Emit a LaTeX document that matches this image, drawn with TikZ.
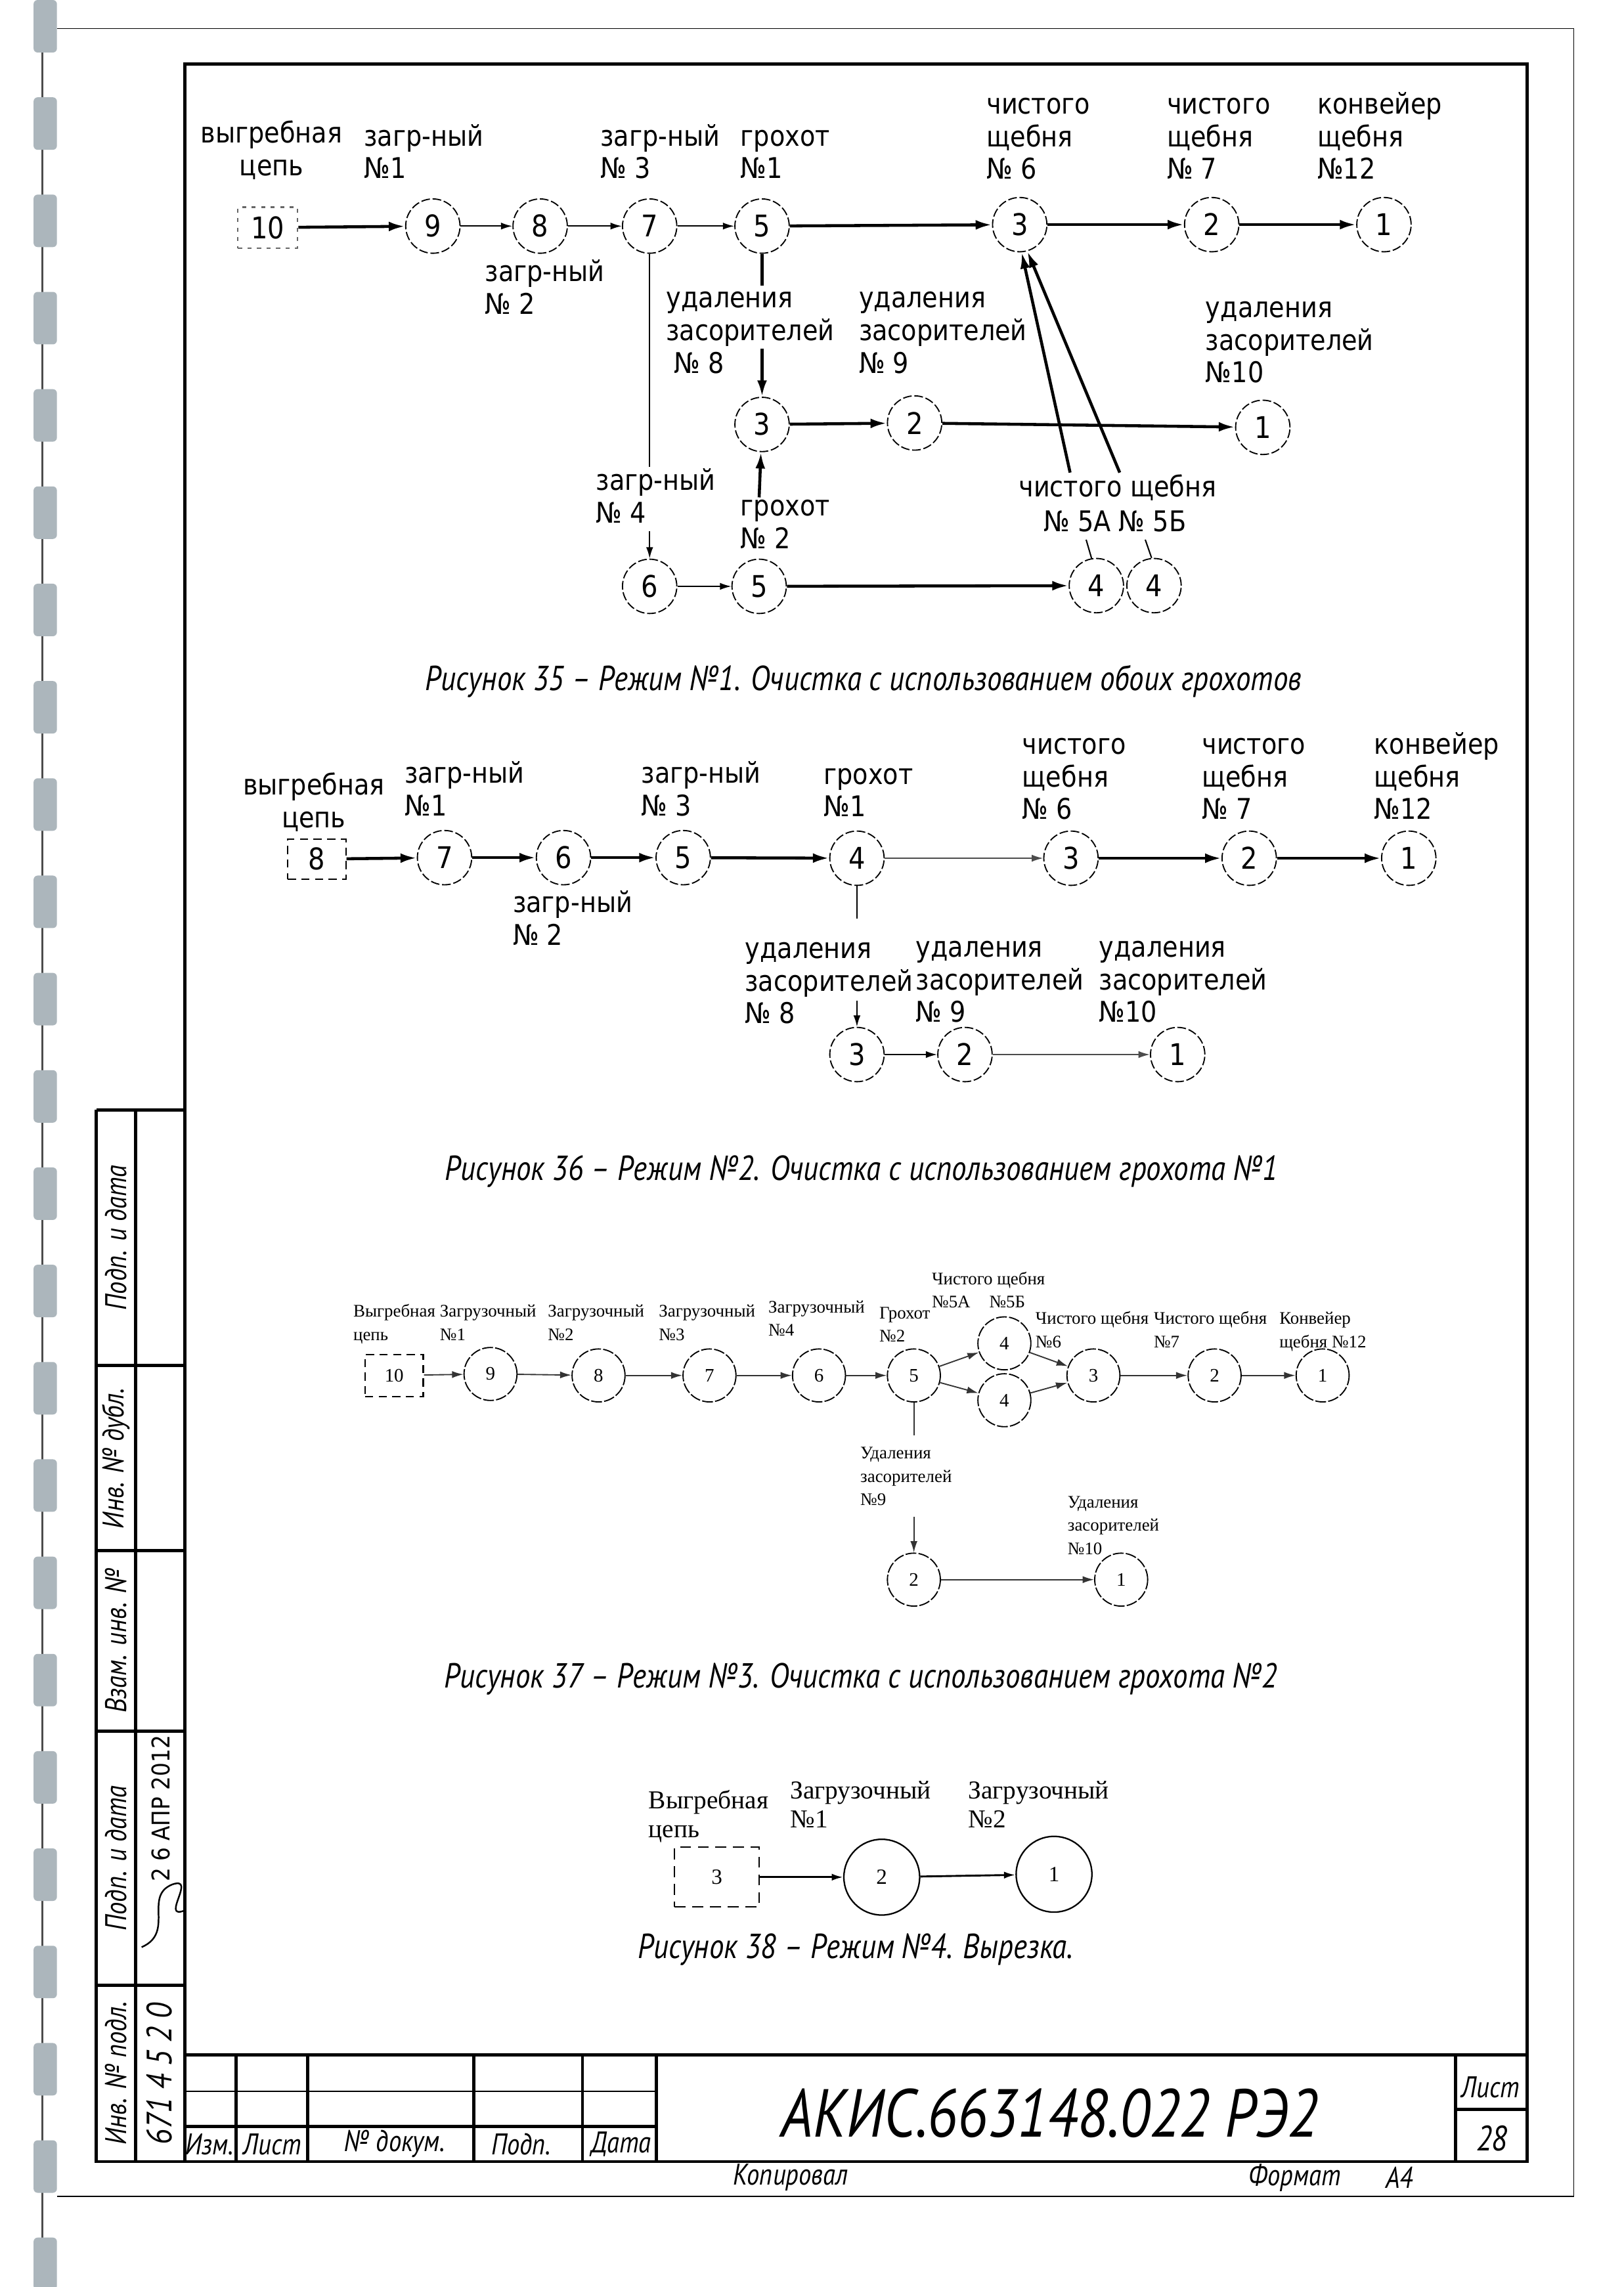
\documentclass[tikz,border=0pt]{standalone}
\usepackage{fontspec}
\setmainfont{DejaVu Sans}
\newfontfamily\tah{DejaVu Sans}[FakeStretch=0.88]
\newfontfamily\gost{PT Sans}[FakeStretch=0.85]
\newfontfamily\tms{Liberation Serif}
\usetikzlibrary{arrows.meta}
\definecolor{bind}{RGB}{172,182,188}
\tikzset{
 crc/.style={circle, draw, line width=0.45pt, dash pattern=on 3.2pt off 1pt, minimum size=20pt, inner sep=0pt, font=\tah\fontsize{11}{12}\selectfont},
 crcs/.style={circle, draw, line width=0.45pt, dash pattern=on 4pt off 0.8pt, minimum size=19.5pt, inner sep=0pt, font=\tms\fontsize{7}{8}\selectfont},
 crcl/.style={circle, draw, line width=0.55pt, minimum size=27.9pt, inner sep=0pt, font=\tms\fontsize{8}{9}\selectfont},
 boxd/.style={rectangle, draw, line width=0.5pt, dash pattern=on 3pt off 2pt, inner sep=0pt},
 lab/.style={anchor=base west, align=left, inner sep=0pt, font=\tah\fontsize{10.5}{12}\selectfont},
 labc/.style={anchor=base, align=center, inner sep=0pt, font=\tah\fontsize{10.5}{12}\selectfont},
 labs/.style={anchor=base west, align=left, inner sep=0pt, font=\tms\fontsize{6.5}{8.6}\selectfont},
 labm/.style={anchor=base west, align=left, inner sep=0pt, font=\tms\fontsize{9.5}{10.7}\selectfont},
 capt/.style={inner sep=0pt, font=\gost\itshape\fontsize{12.8}{14}\selectfont},
 gst/.style={inner sep=0pt, font=\gost\itshape\fontsize{11}{12}\selectfont},
 thk/.style={line width=1.1pt, -{Latex[length=6pt,width=3.6pt]}},
 thn/.style={line width=0.5pt, -{Latex[length=4.2pt,width=2.6pt]}},
 thkl/.style={line width=1.1pt},
 thnl/.style={line width=0.5pt},
 frm/.style={line width=1.2pt},
}
\begin{document}
\begin{tikzpicture}[x=0.018888cm,y=-0.018881cm]
\useasboundingbox (0,0) rectangle (1112,1568);
\fill[white] (0,0) rectangle (1112,1568);

% binding strip
\draw[line width=0.5pt, black!70] (29,0) -- (29,1568);
\foreach \i in {0,...,23} {
  \fill[bind, rounded corners=1.5pt] (23,{\i*66.7}) rectangle (39,{\i*66.7+36});
}
% page cut lines
\draw[line width=0.4pt] (39,19.5) -- (1078,19.5) -- (1078,1506) -- (39,1506);

% frame
\draw[frm] (126.5,44) rectangle (1046,1482);
% left stamp column
\draw[frm] (66,761) -- (126.5,761);
\draw[frm] (66,761) -- (66,1482) -- (126.5,1482);
\draw[frm] (93,761) -- (93,1482);
\foreach \yy in {936,1063,1187,1361} { \draw[frm] (66,\yy) -- (126.5,\yy); }
\node[gst, rotate=90] (s1) at (79.5,848.5) {Подп. и дата};
\node[gst, rotate=90] (s2) at (79.5,1000) {Инв. № дубл.};
\node[gst, rotate=90] (s3) at (79.5,1125) {Взам. инв. №};
\node[gst, rotate=90] (s4) at (79.5,1274) {Подп. и дата};
\node[gst, rotate=90] (s5) at (79.5,1421.5) {Инв. № подл.};
\node[rotate=90, inner sep=0pt, font=\tah\fontsize{9}{10}\selectfont] (s6) at (110,1240) {2 6 АПР 2012};
\node[rotate=90, inner sep=0pt, font=\gost\itshape\fontsize{13}{14}\selectfont] (s7) at (109,1422) {671 4 5 2 0};
\draw[line width=0.6pt] (97,1335) .. controls (120,1325) and (98,1300) .. (118,1292) .. controls (135,1286) and (110,1316) .. (126,1310);

% title block
\draw[frm] (126.5,1409) -- (1046,1409);
\draw[thnl] (126.5,1434) -- (449.6,1434);
\draw[frm] (126.5,1458) -- (449.6,1458);
\foreach \xx in {161.5,210.6,324.5,399,449.6,997} { \draw[frm] (\xx,1409) -- (\xx,1482); }
\draw[frm] (997,1446) -- (1046,1446);
\node[gst] (t1) at (143.5,1470) {Изм.};
\node[gst] (t2) at (186.5,1470) {Лист};
\node[gst] (t3) at (270.5,1470) {№ докум.};
\node[gst] (t4) at (357,1470) {Подп.};
\node[gst] (t5) at (425.5,1470) {Дата};
\node[inner sep=0pt, font=\gost\itshape\fontsize{25}{27}\selectfont] (tdoc) at (719,1449) {АКИС.663148.022 РЭ2};
\node[gst] (tlist) at (1021,1431) {Лист};
\node[gst, font=\gost\itshape\fontsize{13}{14}\selectfont] (tnum) at (1022,1466) {28};
\node[gst] (tkop) at (541.5,1493) {Копировал};
\node[gst] (tfmt) at (887,1493) {Формат};
\node[gst] (ta4) at (958.5,1493) {А4};

% ================= Figure 35 =================
\node[boxd, draw=black!60, dash pattern=on 1.5pt off 2pt, minimum width=22pt, minimum height=15pt, font=\tah\fontsize{11}{12}\selectfont] (b10) at (183.5,156) {10};
\node[crc] (n9) at (296.5,155) {9};
\node[crc] (n8) at (370,155) {8};
\node[crc] (n7) at (445,155) {7};
\node[crc] (n5) at (522,155) {5};
\node[crc] (t3c) at (698.5,154) {3};
\node[crc] (t2c) at (830,154) {2};
\node[crc] (t1c) at (948,154) {1};
\node[crc] (m3) at (522,291) {3};
\node[crc] (m2) at (626.5,290) {2};
\node[crc] (m1) at (865,293) {1};
\node[crc] (n6) at (445,402) {6};
\node[crc] (b5) at (520,402) {5};
\node[crc] (a4) at (751,401.5) {4};
\node[crc] (b4) at (790.5,401.5) {4};

\node[labc] (l0) at (186,120.4) {выгребная\\цепь};
\node[lab] (l1) at (249,122.4) {загр-ный\\№1};
\node[lab] (l2) at (332,215.4) {загр-ный\\№ 2};
\node[lab] (l3) at (411,122.4) {загр-ный\\№ 3};
\node[lab] (l4) at (507,122.4) {грохот\\№1};
\node[lab] (l5) at (675.5,122.8) {чистого\\щебня\\№ 6};
\node[lab] (l6) at (799,122.8) {чистого\\щебня\\№ 7};
\node[lab] (l7) at (902,122.8) {конвейер\\щебня\\№12};
\node[lab] (l8) at (456,255.8) {удаления\\засорителей\\\ № 8};
\node[lab] (l9) at (588,255.8) {удаления\\засорителей\\№ 9};
\node[lab] (l10) at (825.5,262.3) {удаления\\засорителей\\№10};
\node[lab] (l11) at (408,358.4) {загр-ный\\№ 4};
\node[lab] (l12) at (507,376) {грохот\\№ 2};
\node[lab] (l13) at (697.5,340.5) {чистого щебня};
\node[lab] (l14) at (714.6,364.5) {№ 5А № 5Б};

\draw[thk] (b10) -- (n9);
\draw[thn] (n9) -- (n8);
\draw[thn] (n8) -- (n7);
\draw[thn] (n7) -- (n5);
\draw[thk] (n5) -- (t3c);
\draw[thk] (t3c) -- (t2c);
\draw[thk] (t2c) -- (t1c);
\coordinate (p1) at (522,196);
\coordinate (p2) at (522,239);
\draw[thkl] (n5) -- (p1);
\draw[thk] (p2) -- (m3);
\coordinate (p3) at (445,320);
\coordinate (p4) at (445,364);
\draw[thnl] (n7) -- (p3);
\draw[thn] (p4) -- (n6);
\draw[thn] (n6) -- (b5);
\draw[thk] (b5) -- (a4);
\draw[thk] (m3) -- (m2);
\draw[thk] (m2) -- (m1);
\coordinate (p5) at (520,341);
\draw[thk] (p5) -- (m3);
\coordinate (p6) at (733,324);
\coordinate (p7) at (767,324);
\draw[thk] (p6) -- (t3c.-86);
\draw[thk] (p7) -- (t3c.-74);
\coordinate (p8) at (744,370);
\coordinate (p9) at (784.5,370);
\draw[thnl] (a4.100) -- (p8);
\draw[thnl] (b4.95) -- (p9);

\node[capt] (c35) at (591.5,467) {Рисунок 35 – Режим №1. Очистка с использованием обоих грохотов};

% ================= Figure 36 =================
\node[boxd, minimum width=21.4pt, minimum height=14.7pt, font=\tah\fontsize{11}{12}\selectfont] (b8) at (217,589) {8};
\node[crc] (f7) at (304.5,588) {7};
\node[crc] (f6) at (386,588) {6};
\node[crc] (f5) at (468,588) {5};
\node[crc] (f4) at (587,588.4) {4};
\node[crc] (f3) at (733.6,588.4) {3};
\node[crc] (f2) at (855.7,588.4) {2};
\node[crc] (f1) at (965,588.4) {1};
\node[crc] (g3) at (587,723) {3};
\node[crc] (g2) at (661,723) {2};
\node[crc] (g1) at (806.7,723) {1};

\node[labc] (e0) at (215,567.4) {выгребная\\цепь};
\node[lab] (e1) at (277,559.4) {загр-ный\\№1};
\node[lab] (e2) at (351,647.9) {загр-ный\\№ 2};
\node[lab] (e3) at (439,559.4) {загр-ный\\№ 3};
\node[lab] (e4) at (564,560) {грохот\\№1};
\node[lab] (e5) at (700,561.8) {чистого\\щебня\\№ 6};
\node[lab] (e6) at (823,561.8) {чистого\\щебня\\№ 7};
\node[lab] (e7) at (941,561.8) {конвейер\\щебня\\№12};
\node[lab] (e8) at (510,701.8) {удаления\\засорителей\\№ 8};
\node[lab] (e9) at (627,700.8) {удаления\\засорителей\\№ 9};
\node[lab] (e10) at (752.5,700.8) {удаления\\засорителей\\№10};

\draw[thk] (b8) -- (f7);
\draw[thk] (f7) -- (f6);
\draw[thk] (f6) -- (f5);
\draw[thk] (f5) -- (f4);
\draw[thn, black!70] (f4) -- (f3);
\draw[thk] (f3) -- (f2);
\draw[thk] (f2) -- (f1);
\coordinate (q1) at (587,630);
\coordinate (q2) at (587,686);
\draw[thnl] (f4) -- (q1);
\draw[thn] (q2) -- (g3);
\draw[thn] (g3) -- (g2);
\draw[thn, black!70] (g2) -- (g1);

\node[capt] (c36) at (590,803) {Рисунок 36 – Режим №2. Очистка с использованием грохота №1};

% ================= Figure 37 =================
\node[boxd, minimum width=21.4pt, minimum height=15.5pt, font=\tms\fontsize{7}{8}\selectfont] (h10) at (270,943) {10};
\node[crcs] (h9) at (336,942) {9};
\node[crcs] (h8) at (410,943) {8};
\node[crcs] (h7) at (486,943) {7};
\node[crcs] (h6) at (561,943) {6};
\node[crcs] (h5) at (626,943) {5};
\node[crcs] (h4a) at (688,921) {4};
\node[crcs] (h4b) at (688,960) {4};
\node[crcs] (h3) at (749,943) {3};
\node[crcs] (h2) at (832,943) {2};
\node[crcs] (h1) at (906,943) {1};
\node[crcs] (k2) at (626,1083) {2};
\node[crcs] (k1) at (768,1083) {1};

\node[labs] (d0) at (241.7,919) {Выгребная\\цепь};
\node[labs] (d1) at (301,919) {Загрузочный\\№1};
\node[labs] (d2) at (375,919) {Загрузочный\\№2};
\node[labs] (d3) at (451,919) {Загрузочный\\№3};
\node[labs] (d4) at (526,916) {Загрузочный\\№4};
\node[labs] (d5) at (602,920) {Грохот\\№2};
\node[labs] (d6) at (638,896.6) {Чистого щебня\\№5А\hspace{7pt}№5Б};
\node[labs] (d7) at (709,924) {Чистого щебня\\№6};
\node[labs] (d8) at (790,924) {Чистого щебня\\№7};
\node[labs] (d9) at (876,924) {Конвейер\\щебня №12};
\node[labs] (d10) at (589,1032.1) {Удаления\\засорителей\\№9};
\node[labs] (d11) at (731,1065.7) {Удаления\\засорителей\\№10};

\begin{scope}[black!80]
\draw[thn, line width=0.45pt] (h10) -- (h9);
\draw[thn, line width=0.45pt] (h9) -- (h8);
\draw[thn, line width=0.45pt] (h8) -- (h7);
\draw[thn, line width=0.45pt] (h7) -- (h6);
\draw[thn, line width=0.45pt] (h6) -- (h5);
\draw[thn, line width=0.45pt] (h5) -- (h4a);
\draw[thn, line width=0.45pt] (h5) -- (h4b);
\draw[thn, line width=0.45pt] (h4a) -- (h3);
\draw[thn, line width=0.45pt] (h4b) -- (h3);
\draw[thn, line width=0.45pt] (h3) -- (h2);
\draw[thn, line width=0.45pt] (h2) -- (h1);
\coordinate (u1) at (626,984);
\coordinate (u2) at (626,1040);
\draw[thnl, line width=0.45pt] (h5) -- (u1);
\draw[thn, line width=0.45pt] (u2) -- (k2);
\draw[thn, line width=0.45pt] (k2) -- (k1);
\end{scope}

\node[capt] (c37) at (589.5,1151) {Рисунок 37 – Режим №3. Очистка с использованием грохота №2};

% ================= Figure 38 =================
\node[boxd, dash pattern=on 4pt off 2.5pt, minimum width=31pt, minimum height=22pt, font=\tms\fontsize{8}{9}\selectfont] (r3) at (491,1287) {3\hspace{14pt}};
\node[crcl] (r2) at (604,1287) {2};
\node[crcl] (r1) at (722,1285) {1};
\node[labm] (a0) at (444,1260) {Выгребная\\цепь};
\node[labm] (a1) at (541,1253) {Загрузочный\\№1};
\node[labm] (a2) at (663,1253) {Загрузочный\\№2};
\draw[thn, line width=0.7pt] (r3) -- (r2);
\draw[thn, line width=0.7pt] (r2) -- (r1);

\node[capt] (c38) at (586,1336.5) {Рисунок 38 – Режим №4. Вырезка.};
\end{tikzpicture}
\end{document}
